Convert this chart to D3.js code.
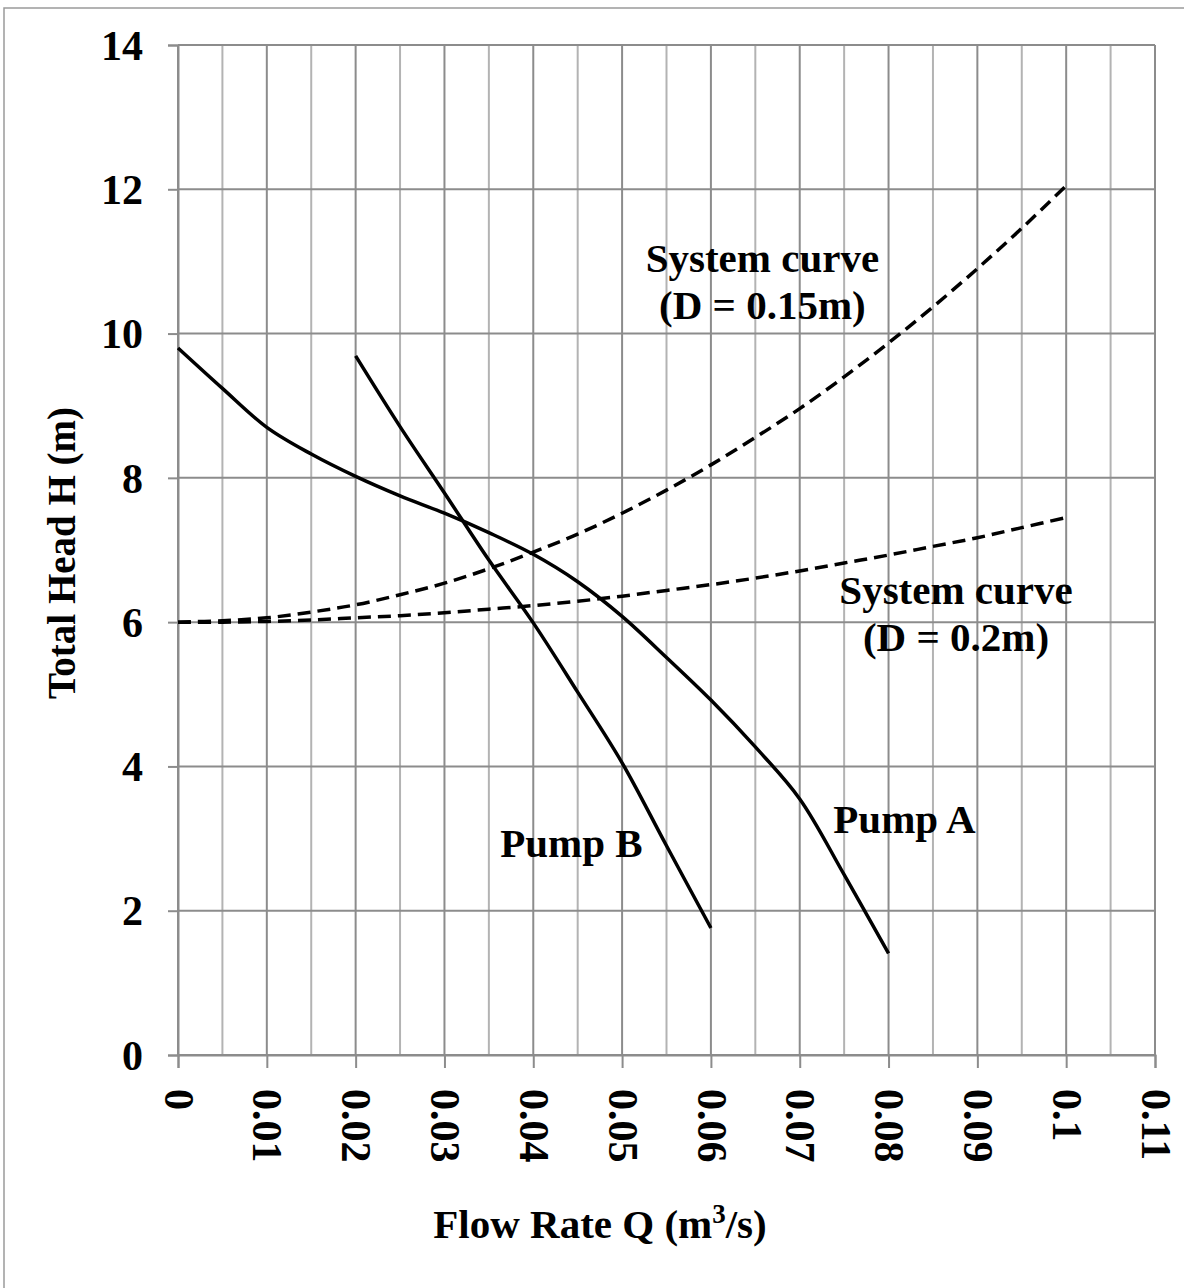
<!DOCTYPE html>
<html>
<head>
<meta charset="utf-8">
<script src="https://cdn.jsdelivr.net/npm/d3@7"></script>
<style>
  body { margin: 0; background: #fff; }
  svg text { font-family: "Liberation Serif", "Times New Roman", serif; font-weight: bold; fill: #000; }
</style>
</head>
<body>
<svg id="chart" width="1184" height="1288"></svg>
<script>
// data
const pumpAQ = [0, 0.005, 0.01, 0.015, 0.02, 0.025, 0.03, 0.035, 0.04, 0.045, 0.05, 0.055, 0.06, 0.065, 0.07, 0.075, 0.08];
const pumpAH = [9.80, 9.24, 8.70, 8.33, 8.02, 7.75, 7.51, 7.24, 6.94, 6.56, 6.08, 5.51, 4.92, 4.27, 3.55, 2.50, 1.41];

const pumpBQ = [0.02, 0.025, 0.03, 0.035, 0.04, 0.045, 0.05, 0.055, 0.06];
const pumpBH = [9.69, 8.71, 7.79, 6.86, 5.99, 5.03, 4.05, 2.90, 1.76];

const sysQ = [0, 0.005, 0.01, 0.015, 0.02, 0.025, 0.03, 0.035, 0.04, 0.045, 0.05, 0.055, 0.06, 0.065, 0.07, 0.075, 0.08, 0.085, 0.09, 0.095, 0.1];
const sys15H = [6.00, 6.02, 6.06, 6.14, 6.24, 6.38, 6.54, 6.74, 6.97, 7.22, 7.51, 7.83, 8.18, 8.56, 8.96, 9.40, 9.87, 10.37, 10.90, 11.46, 12.05];
const sys20H = [6.00, 6.00, 6.01, 6.03, 6.06, 6.09, 6.13, 6.18, 6.23, 6.29, 6.36, 6.44, 6.52, 6.61, 6.71, 6.82, 6.93, 7.05, 7.17, 7.31, 7.45];

const xTicks = [0, 0.01, 0.02, 0.03, 0.04, 0.05, 0.06, 0.07, 0.08, 0.09, 0.1, 0.11];
const xMinor = [0.005, 0.015, 0.025, 0.035, 0.045, 0.055, 0.065, 0.075, 0.085, 0.095, 0.105];
const yTicks = [0, 2, 4, 6, 8, 10, 12, 14];

const labels = [
  {lines: ["System curve", "(D = 0.15m)"], q: 0.0658, h: 10.85},
  {lines: ["System curve", "(D = 0.2m)"], q: 0.0876, h: 6.25},
  {lines: ["Pump B"], q: 0.0443, h: 2.74},
  {lines: ["Pump A"], q: 0.0818, h: 3.08}
];

const svg = d3.select("#chart");

// outer frame (only top/left show in the picture)
svg.append("rect")
    .attr("x", 4).attr("y", 8)
    .attr("width", 1300).attr("height", 1400)
    .attr("fill", "none")
    .attr("stroke", "#9a9a9a")
    .attr("stroke-width", 1.5);

const x = d3.scaleLinear().domain([0, 0.11]).range([178, 1155]);
const y = d3.scaleLinear().domain([0, 14]).range([1055, 45]);

// grid ----------------------------------------------------------
const gridG = svg.append("g");

gridG.selectAll(".minor")
  .data(xMinor)
  .enter().append("line")
    .attr("x1", d => x(d)).attr("x2", d => x(d))
    .attr("y1", y(0)).attr("y2", y(14))
    .attr("stroke", "#b3b3b3")
    .attr("stroke-width", 2);

gridG.selectAll(".majorX")
  .data(xTicks)
  .enter().append("line")
    .attr("x1", d => x(d)).attr("x2", d => x(d))
    .attr("y1", y(0)).attr("y2", y(14) )
    .attr("stroke", "#8c8c8c")
    .attr("stroke-width", 2);

gridG.selectAll(".majorY")
  .data(yTicks)
  .enter().append("line")
    .attr("x1", x(0)).attr("x2", x(0.11))
    .attr("y1", d => y(d)).attr("y2", d => y(d))
    .attr("stroke", "#8c8c8c")
    .attr("stroke-width", 2);

// axes ----------------------------------------------------------
const xAxis = d3.axisBottom(x)
    .tickValues(xTicks)
    .tickSize(13)
    .tickFormat(d => d3.format("~g")(d));

const xAxisG = svg.append("g")
    .attr("transform", `translate(0, ${y(0)})`)
    .call(xAxis);
xAxisG.select(".domain").attr("stroke", "#8c8c8c").attr("stroke-width", 2);
xAxisG.selectAll(".tick line").attr("stroke", "#8c8c8c").attr("stroke-width", 2);
xAxisG.selectAll(".tick text")
    .attr("font-size", 42)
    .attr("text-anchor", "start")
    .attr("transform", "rotate(90)")
    .attr("x", 34)
    .attr("y", 0)
    .attr("dy", "0.33em");

const yAxis = d3.axisLeft(y)
    .tickValues(yTicks)
    .tickSize(10)
    .tickFormat(d3.format("d"));

const yAxisG = svg.append("g")
    .attr("transform", `translate(${x(0)}, 0)`)
    .call(yAxis);
yAxisG.select(".domain").attr("stroke", "#8c8c8c").attr("stroke-width", 2);
yAxisG.selectAll(".tick line").attr("stroke", "#8c8c8c").attr("stroke-width", 2);
yAxisG.selectAll(".tick text")
    .attr("font-size", 42)
    .attr("x", -35)
    .attr("dy", "0.34em");

svg.selectAll(".tick text").style("font-family", "'Liberation Serif', 'Times New Roman', serif").style("font-weight", "bold").attr("fill", "#000");

// axis titles
const xTitle = svg.append("text")
    .attr("x", 600)
    .attr("y", 1238)
    .attr("text-anchor", "middle")
    .attr("font-size", 41);
xTitle.append("tspan").text("Flow Rate Q (m");
xTitle.append("tspan").attr("font-size", 27).attr("dy", -15).text("3");
xTitle.append("tspan").attr("dy", 15).text("/s)");

svg.append("text")
    .attr("transform", "translate(75, 553) rotate(-90)")
    .attr("text-anchor", "middle")
    .attr("font-size", 39)
    .text("Total Head H (m)");

// curves --------------------------------------------------------
const line = d3.line()
    .x(d => x(d[0]))
    .y(d => y(d[1]))
    .curve(d3.curveCatmullRom.alpha(0.5));

const series = [
  {q: sysQ, h: sys15H, dash: "13,7"},
  {q: sysQ, h: sys20H, dash: "13,7"},
  {q: pumpAQ, h: pumpAH, dash: null},
  {q: pumpBQ, h: pumpBH, dash: null}
];

svg.append("g").selectAll("path")
  .data(series)
  .enter().append("path")
    .attr("d", s => line(s.q.map((q, i) => [q, s.h[i]])))
    .attr("fill", "none")
    .attr("stroke", "#000")
    .attr("stroke-width", 3.5)
    .attr("stroke-dasharray", s => s.dash);

// annotations
labels.forEach(l => {
  const t = svg.append("text")
      .attr("x", x(l.q))
      .attr("y", y(l.h))
      .attr("text-anchor", "middle")
      .attr("font-size", 41);
  l.lines.forEach((s, i) => {
    t.append("tspan")
        .attr("x", x(l.q))
        .attr("dy", i === 0 ? 0 : 47)
        .text(s);
  });
});
</script>
</body>
</html>
